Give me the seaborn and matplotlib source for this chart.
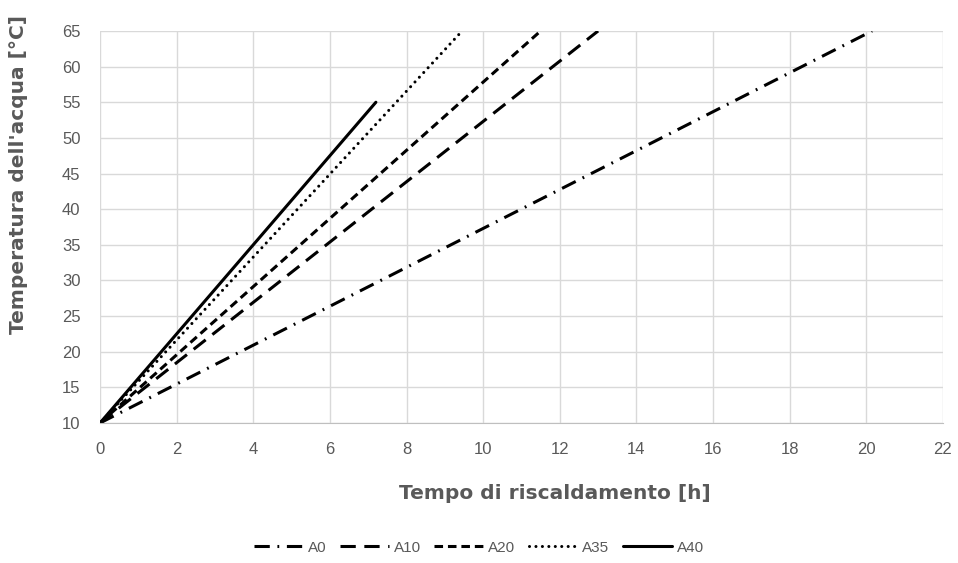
import pandas as pd
import seaborn as sns
import matplotlib.pyplot as plt

# dati (inizio e fine di ogni retta)
serie = ['A0', 'A10', 'A20', 'A35', 'A40']
tempo_inizio = [0, 0, 0, 0, 0]
temp_inizio = [10, 10, 10, 10, 10]
tempo_fine = [20.15, 13.0, 11.5, 9.45, 7.2]
temp_fine = [65, 65, 65, 65, 55]

x_ticks = list(range(0, 23, 2))
y_ticks = list(range(10, 66, 5))

righe = []
for s, x0, y0, x1, y1 in zip(serie, tempo_inizio, temp_inizio, tempo_fine, temp_fine):
    righe.append({'serie': s, 'tempo': x0, 'temp': y0})
    righe.append({'serie': s, 'tempo': x1, 'temp': y1})
df = pd.DataFrame(righe)

sns.set_style('white')
grigio = '#595959'
font_tick = ['Liberation Sans Narrow', 'Liberation Sans', 'DejaVu Sans']

fig = plt.figure(figsize=(9.58, 5.63), dpi=100)
ax = fig.add_axes([0.1044, 0.2487, 0.8799, 0.6963])

trattini = {
    'A0': (5, 2.5, 0.6, 2.5),
    'A10': (5, 2.8),
    'A20': (2.8, 1.6),
    'A35': (0.01, 2.1),
    'A40': '',
}
sns.lineplot(
    data=df, x='tempo', y='temp', style='serie', dashes=trattini,
    color='black', linewidth=2.2, ax=ax, legend=True
)

ax.set_xlim(0, 22)
ax.set_ylim(10, 65)
ax.set_xticks(x_ticks)
ax.set_yticks(y_ticks)
ax.grid(True, color='#d9d9d9', linewidth=1)
for lato in ['top', 'right', 'left']:
    ax.spines[lato].set_visible(False)
ax.spines['bottom'].set_color('#bfbfbf')
ax.tick_params(length=0, labelsize=12, labelcolor=grigio, pad=14)
for t in ax.get_xticklabels() + ax.get_yticklabels():
    t.set_family(font_tick)

ax.set_xlabel('Tempo di riscaldamento [h]', fontsize=14.5, fontweight='bold',
              color=grigio, family=['DejaVu Sans'])
ax.set_ylabel("Temperatura dell'acqua [°C]", fontsize=14.5, fontweight='bold',
              color=grigio, family=['DejaVu Sans'])
ax.xaxis.set_label_coords(0.54, -0.155)
ax.yaxis.set_label_coords(-0.086, 0.635)

h, l = ax.get_legend_handles_labels()
ax.get_legend().remove()

# punti tondi per la serie A35
ax.lines[serie.index('A35')].set_dash_capstyle('round')
h[l.index('A35')].set_dash_capstyle('round')

leg = fig.legend(h, l, loc='center', bbox_to_anchor=(0.5, 0.027), ncol=5,
                 frameon=False, handlelength=3.2, columnspacing=0.9,
                 handletextpad=0.3, fontsize=11)
for t in leg.get_texts():
    t.set_color(grigio)
    t.set_family(font_tick)
for linea in leg.get_lines():
    if linea.get_label() == 'A35':
        linea.set_dash_capstyle('round')

fig.savefig('out.png', dpi=100)
